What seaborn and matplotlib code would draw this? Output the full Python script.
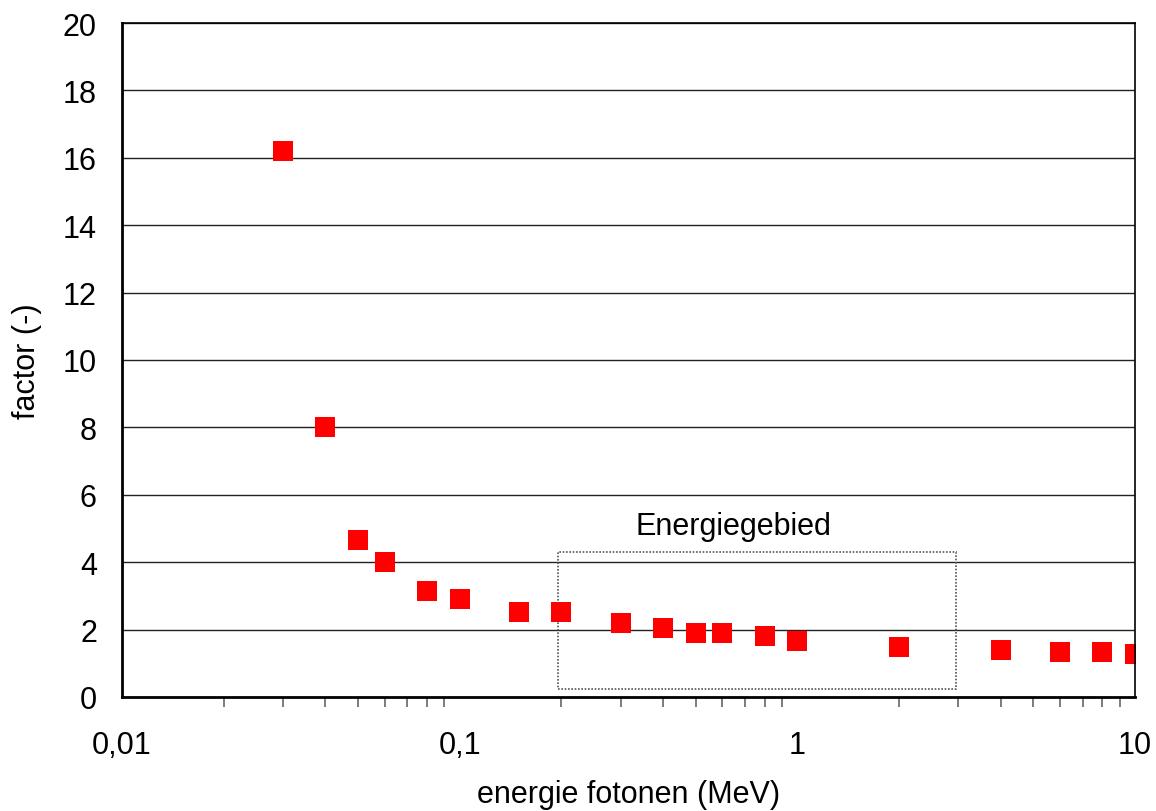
import matplotlib
matplotlib.use("Agg")
import matplotlib.pyplot as plt
import matplotlib.ticker as mticker
from matplotlib.patches import Rectangle
import pandas as pd
import seaborn as sns

# Photon energy (MeV) and corresponding factor
energie = [0.03, 0.04, 0.05, 0.06, 0.08, 0.1, 0.15, 0.2, 0.3, 0.4, 0.5, 0.6,
           0.8, 1.0, 2.0, 4.0, 6.0, 8.0, 10.0]
factor = [16.2, 8.0, 4.66, 4.0, 3.15, 2.91, 2.52, 2.52, 2.21, 2.05, 1.9, 1.9,
          1.81, 1.66, 1.49, 1.39, 1.34, 1.34, 1.27]

x_ticks = [0.01, 0.1, 1, 10]
x_tick_labels = ["0,01", "0,1", "1", "10"]
y_ticks = list(range(0, 21, 2))

# Highlighted energy range
gebied_x = [0.195, 2.95]
gebied_y = [0.25, 4.3]
gebied_label = "Energiegebied"

df = pd.DataFrame({"energie": energie, "factor": factor})

sns.set_style("white")
plt.rcParams["font.family"] = ["Liberation Sans", "DejaVu Sans"]
plt.rcParams["text.color"] = "black"
plt.rcParams["axes.labelcolor"] = "black"
plt.rcParams["xtick.labelcolor"] = "black"
plt.rcParams["ytick.labelcolor"] = "black"

fs = 22

fig = plt.figure(figsize=(11.56, 8.12), dpi=100)
ax = fig.add_axes([122 / 1156, 1 - 698 / 812, (1135 - 122) / 1156, (698 - 24) / 812])

ax.set_xscale("log")
ax.set_xlim(0.01, 10)
ax.set_ylim(0, 20)

# horizontal gridlines
for yv in y_ticks[1:]:
    ax.axhline(yv, color="#222222", lw=1.0, zorder=1)

sns.scatterplot(data=df, x="energie", y="factor", ax=ax, marker="s", s=205,
                color="#ff0000", linewidth=0, zorder=4, legend=False)

ax.add_patch(Rectangle((gebied_x[0], gebied_y[0]), gebied_x[1] - gebied_x[0],
                       gebied_y[1] - gebied_y[0], fill=False, edgecolor="#555555",
                       lw=1.2, linestyle=(0, (1, 1)), zorder=3))
ax.text(0.645, 5.07, gebied_label, ha="center", va="center", fontsize=fs,
        color="black")

ax.set_yticks(y_ticks)
ax.xaxis.set_major_locator(mticker.FixedLocator(x_ticks))
ax.xaxis.set_major_formatter(mticker.FixedFormatter(x_tick_labels))
ax.xaxis.set_minor_locator(mticker.LogLocator(base=10, subs=range(2, 10)))
ax.xaxis.set_minor_formatter(mticker.NullFormatter())

ax.tick_params(axis="both", which="major", direction="out", length=8, width=1.2,
               color="#666666", labelsize=fs, pad=10, labelcolor="black")
ax.tick_params(axis="x", which="minor", direction="out", length=7, width=1.2,
               color="#666666", bottom=True)
ax.tick_params(axis="x", which="major", pad=16)

for side, sp in ax.spines.items():
    sp.set_visible(True)
    sp.set_color("black")
    sp.set_linewidth(2.0 if side in ("left", "bottom") else 1.2)
    sp.set_zorder(5)

ax.set_xlabel("energie fotonen (MeV)", fontsize=fs, color="black")
ax.set_ylabel("factor (-)", fontsize=fs, color="black")
ax.xaxis.set_label_coords(0.5, -0.122)
ax.yaxis.set_label_coords(-0.079, 0.5)

fig.savefig("out.png", dpi=100)
